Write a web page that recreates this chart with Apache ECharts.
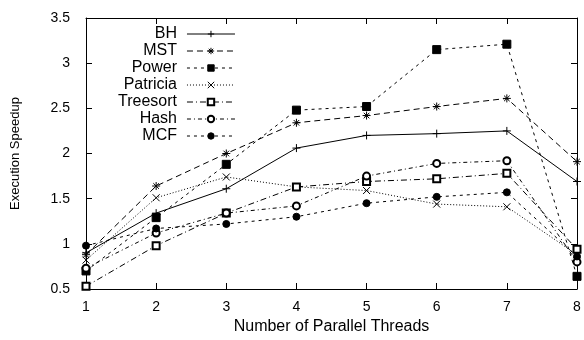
<!DOCTYPE html>
<html>
<head>
<meta charset="utf-8">
<script src="https://cdn.jsdelivr.net/npm/echarts@6/dist/echarts.min.js"></script>
<style>
  html, body { margin: 0; padding: 0; background: #fff; }
  #chart { width: 584px; height: 340px; }
</style>
</head>
<body>
<div id="chart"></div>
<script>
// thread counts on the x axis
const threads = [1, 2, 3, 4, 5, 6, 7, 8];

// speedup per benchmark
const bh       = [0.90, 1.34, 1.61, 2.06, 2.20, 2.22, 2.25, 1.69];
const mst      = [0.88, 1.64, 2.00, 2.34, 2.42, 2.52, 2.61, 1.91];
const power    = [0.70, 1.29, 1.88, 2.48, 2.52, 3.15, 3.21, 0.64];
const patricia = [0.82, 1.51, 1.74, 1.63, 1.59, 1.44, 1.41, 0.88];
const treesort = [0.53, 0.98, 1.34, 1.63, 1.69, 1.72, 1.78, 0.94];
const hash     = [0.73, 1.12, 1.34, 1.42, 1.75, 1.89, 1.92, 0.80];
const mcf      = [0.98, 1.17, 1.22, 1.30, 1.45, 1.52, 1.57, 0.86];

const FONT = 'Liberation Sans, Arial, sans-serif';

// gnuplot-ish point shapes
const PLUS  = 'path://M0,5L10,5M5,0L5,10';
const STAR  = 'path://M0,5L10,5M5,0L5,10M1.5,1.5L8.5,8.5M1.5,8.5L8.5,1.5';
const CROSS = 'path://M0,0L10,10M0,10L10,0';

function mkSeries(name, values, symbol, dash, size) {
  return {
    name: name,
    type: 'line',
    data: threads.map((t, i) => [t, values[i]]),
    symbol: symbol,
    symbolSize: size || 7,
    showAllSymbol: true,
    lineStyle: { color: '#000', width: 1, type: dash },
    itemStyle: { color: '#000', borderColor: '#000', borderWidth: 1 },
    emphasis: { disabled: true }
  };
}

const chart = echarts.init(document.getElementById('chart'));

const tickStyle = { show: true, inside: true, length: 6, lineStyle: { color: '#000', width: 1 } };
const lineStyle = { show: true, onZero: false, lineStyle: { color: '#000', width: 1 } };

chart.setOption({
  animation: false,
  backgroundColor: '#fff',
  textStyle: { fontFamily: FONT },
  grid: { left: 86, right: 7, top: 18, bottom: 47 },
  legend: {
    orient: 'vertical',
    align: 'right',
    left: 118,
    top: 26,
    padding: 0,
    itemGap: 1,
    itemWidth: 48,
    itemHeight: 8,
    lineStyle: { width: 1 },
    itemStyle: { borderWidth: 1 },
    textStyle: { fontFamily: FONT, fontSize: 16, color: '#000', lineHeight: 16, padding: [0, 5, 0, 0] },
    data: ['BH', 'MST', 'Power', 'Patricia', 'Treesort', 'Hash', 'MCF']
  },
  xAxis: [{
    type: 'value',
    min: 1, max: 8, interval: 1,
    name: 'Number of Parallel Threads',
    nameLocation: 'middle',
    nameGap: 30,
    nameTextStyle: { fontFamily: FONT, fontSize: 16, color: '#000' },
    axisLine: lineStyle,
    axisTick: tickStyle,
    axisLabel: { fontFamily: FONT, fontSize: 14, color: '#000', margin: 11 },
    splitLine: { show: false }
  }, {
    type: 'value',
    position: 'top',
    min: 1, max: 8, interval: 1,
    axisLine: lineStyle,
    axisTick: tickStyle,
    axisLabel: { show: false },
    splitLine: { show: false }
  }],
  yAxis: [{
    type: 'value',
    min: 0.5, max: 3.5, interval: 0.5,
    name: 'Execution Speedup',
    nameLocation: 'middle',
    nameGap: 64,
    nameTextStyle: { fontFamily: FONT, fontSize: 13, color: '#000' },
    axisLine: lineStyle,
    axisTick: tickStyle,
    axisLabel: { fontFamily: FONT, fontSize: 14, color: '#000', margin: 16 },
    splitLine: { show: false }
  }, {
    type: 'value',
    position: 'right',
    min: 0.5, max: 3.5, interval: 0.5,
    axisLine: lineStyle,
    axisTick: tickStyle,
    axisLabel: { show: false },
    splitLine: { show: false }
  }],
  series: [
    mkSeries('BH', bh, PLUS, 'solid', 8),
    mkSeries('MST', mst, STAR, [6, 4], 8),
    mkSeries('Power', power, 'rect', [3, 4], 8),
    mkSeries('Patricia', patricia, CROSS, [1, 2], 7),
    mkSeries('Treesort', treesort, 'emptyRect', [6, 3, 1, 3], 7),
    mkSeries('Hash', hash, 'emptyCircle', [4, 3, 1, 3], 7),
    mkSeries('MCF', mcf, 'circle', [3, 4], 7)
  ]
});
</script>
</body>
</html>
